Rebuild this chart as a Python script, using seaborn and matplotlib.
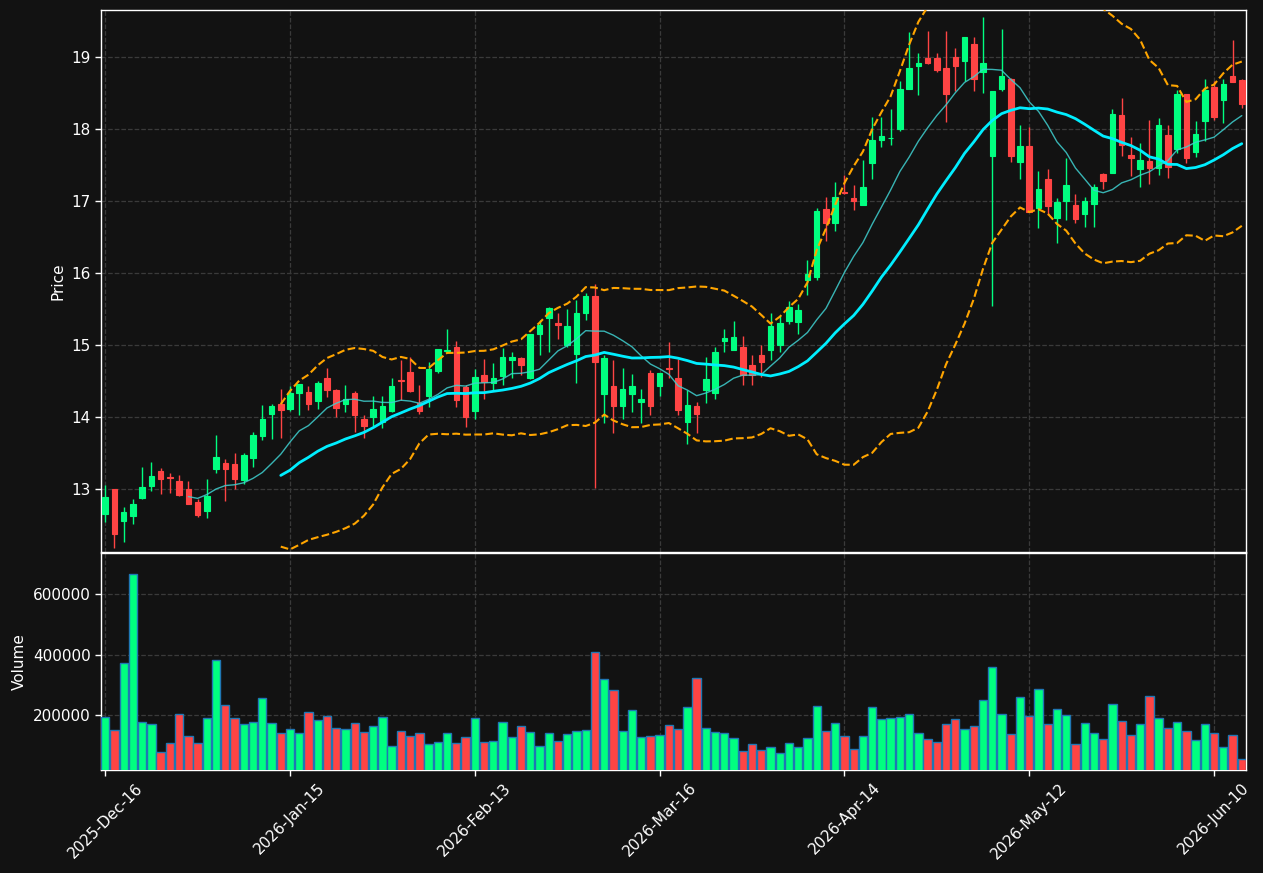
import numpy as np
import pandas as pd
import matplotlib
matplotlib.use("Agg")
import matplotlib.pyplot as plt
import seaborn as sns

# 日线数据 (交易日, 从 2025-12-16 开始)
start_date = "2025-12-16"
holidays = ["2025-12-25", "2026-01-01", "2026-01-19", "2026-02-16", "2026-04-03", "2026-05-25"]

opens = [12.66, 13.00, 12.56, 12.63, 12.88, 13.05, 13.25, 13.17, 13.11, 13.01,
         12.82, 12.70, 13.28, 13.36, 13.35, 13.13, 13.43, 13.74, 14.04, 14.19,
         14.12, 14.33, 14.35, 14.23, 14.55, 14.38, 14.18, 14.34, 13.97, 14.01,
         13.94, 14.09, 14.52, 14.63, 14.20, 14.29, 14.64, 14.92, 14.98, 14.42,
         14.09, 14.58, 14.47, 14.57, 14.79, 14.82, 14.54, 15.15, 15.37, 15.31,
         15.00, 14.88, 15.44, 15.68, 14.32, 14.44, 14.16, 14.32, 14.21, 14.62,
         14.43, 14.69, 14.55, 13.94, 14.15, 14.38, 14.33, 15.06, 14.93, 14.98,
         14.73, 14.87, 14.93, 15.00, 15.34, 15.32, 15.91, 15.94, 16.89, 16.70,
         17.12, 17.04, 16.94, 17.53, 17.85, 17.87, 18.00, 18.55, 18.87, 18.99,
         18.98, 18.85, 19.00, 18.94, 19.18, 18.79, 17.62, 18.55, 18.70, 17.54,
         17.77, 16.91, 17.31, 16.76, 17.00, 16.95, 16.82, 16.96, 17.37, 17.39,
         18.19, 17.64, 17.44, 17.56, 17.46, 17.92, 17.72, 18.48, 17.68, 18.11,
         18.58, 18.40, 18.74, 18.68]
highs = [13.06, 13.01, 12.75, 12.87, 13.31, 13.38, 13.29, 13.22, 13.20, 13.11,
         12.86, 13.14, 13.76, 13.42, 13.50, 13.50, 13.79, 14.17, 14.19, 14.39,
         14.43, 14.46, 14.43, 14.50, 14.69, 14.39, 14.45, 14.36, 14.03, 14.30,
         14.30, 14.54, 14.80, 14.84, 14.45, 14.76, 14.94, 15.22, 15.06, 14.45,
         14.67, 14.81, 14.75, 14.96, 14.90, 14.83, 15.15, 15.35, 15.53, 15.44,
         15.50, 15.62, 15.72, 15.85, 14.86, 14.80, 14.69, 14.60, 14.39, 14.66,
         14.62, 15.05, 14.81, 14.38, 14.21, 14.83, 14.98, 15.22, 15.33, 15.13,
         14.86, 15.00, 15.44, 15.40, 15.61, 15.57, 16.18, 16.90, 17.06, 17.26,
         17.36, 17.22, 17.57, 18.17, 18.17, 18.27, 18.67, 19.35, 19.06, 19.36,
         19.06, 19.36, 19.12, 19.28, 19.27, 19.56, 18.53, 19.39, 18.71, 18.06,
         18.03, 17.41, 17.45, 17.04, 17.60, 17.10, 17.06, 17.23, 17.39, 18.28,
         18.43, 17.89, 17.81, 18.13, 18.15, 18.06, 18.54, 18.49, 18.11, 18.70,
         18.67, 18.69, 19.24, 18.70]
lows = [12.54, 12.19, 12.27, 12.52, 12.87, 12.98, 12.94, 12.95, 12.91, 12.79,
        12.62, 12.60, 13.23, 12.84, 13.00, 13.08, 13.31, 13.69, 13.70, 13.71,
        14.08, 14.03, 14.10, 14.11, 14.28, 14.00, 14.07, 13.79, 13.71, 13.88,
        13.85, 14.07, 14.24, 14.35, 14.04, 14.14, 14.62, 14.89, 14.14, 13.87,
        13.97, 14.25, 14.38, 14.45, 14.54, 14.58, 14.53, 14.86, 14.90, 15.08,
        14.98, 14.47, 15.35, 13.02, 13.92, 13.78, 13.98, 14.07, 13.92, 14.03,
        14.29, 14.54, 14.03, 13.63, 13.78, 14.20, 14.25, 14.90, 14.93, 14.45,
        14.45, 14.56, 14.80, 14.90, 15.30, 15.15, 15.69, 15.91, 16.45, 16.58,
        17.10, 16.87, 16.94, 17.30, 17.75, 17.78, 17.97, 18.55, 18.47, 18.90,
        18.79, 18.09, 18.53, 18.67, 18.53, 18.50, 15.54, 18.53, 17.54, 17.30,
        16.85, 16.63, 16.80, 16.42, 16.73, 16.69, 16.64, 16.64, 17.16, 17.39,
        17.62, 17.35, 17.20, 17.24, 17.36, 17.32, 17.67, 17.53, 17.61, 17.83,
        18.12, 18.08, 18.65, 18.29]
closes = [12.89, 12.38, 12.68, 12.80, 13.03, 13.19, 13.14, 13.16, 12.92, 12.80,
          12.64, 12.91, 13.45, 13.28, 13.14, 13.47, 13.75, 13.97, 14.16, 14.10,
          14.33, 14.46, 14.18, 14.48, 14.38, 14.13, 14.25, 14.03, 13.88, 14.12,
          14.15, 14.44, 14.50, 14.36, 14.08, 14.67, 14.94, 14.93, 14.24, 14.01,
          14.56, 14.49, 14.55, 14.83, 14.83, 14.72, 15.15, 15.28, 15.52, 15.28,
          15.27, 15.45, 15.68, 14.77, 14.82, 14.16, 14.39, 14.44, 14.25, 14.15,
          14.62, 14.67, 14.10, 14.17, 14.04, 14.53, 14.91, 15.10, 15.12, 14.59,
          14.59, 14.77, 15.27, 15.31, 15.53, 15.49, 15.99, 16.86, 16.70, 17.06,
          17.11, 17.00, 17.19, 17.85, 17.90, 17.88, 18.55, 18.85, 18.91, 18.92,
          18.82, 18.48, 18.87, 19.28, 18.69, 18.91, 18.53, 18.74, 17.63, 17.77,
          16.85, 17.17, 16.93, 16.99, 17.22, 16.75, 17.00, 17.19, 17.28, 18.21,
          17.78, 17.60, 17.57, 17.46, 18.05, 17.47, 18.48, 17.60, 17.93, 18.54,
          18.16, 18.63, 18.65, 18.34]
volumes = [193000, 152000, 372000, 668000, 179000, 172000, 80000, 107000, 205000, 133000,
           109000, 190000, 384000, 235000, 192000, 172000, 179000, 258000, 175000, 142000,
           156000, 142000, 212000, 185000, 199000, 159000, 156000, 175000, 146000, 166000,
           195000, 100000, 149000, 133000, 142000, 106000, 113000, 142000, 109000, 129000,
           192000, 111000, 116000, 179000, 127000, 166000, 146000, 100000, 142000, 116000,
           139000, 149000, 152000, 408000, 321000, 283000, 149000, 219000, 129000, 133000,
           136000, 169000, 156000, 228000, 324000, 159000, 146000, 142000, 126000, 83000,
           106000, 86000, 96000, 76000, 109000, 96000, 126000, 232000, 149000, 175000,
           133000, 90000, 133000, 226000, 187000, 190000, 193000, 205000, 142000, 123000,
           113000, 172000, 189000, 156000, 166000, 250000, 361000, 205000, 139000, 262000,
           197000, 288000, 172000, 222000, 202000, 106000, 175000, 142000, 123000, 238000,
           182000, 136000, 172000, 265000, 192000, 159000, 179000, 149000, 119000, 172000,
           142000, 96000, 136000, 56000]

UP = "#00ff80"
DOWN = "#ff4444"
BG = "#121212"


def build_frame():
    dates = pd.bdate_range(start_date, periods=len(closes), freq="C", holidays=holidays)
    df = pd.DataFrame({"date": dates, "open": opens, "high": highs,
                       "low": lows, "close": closes, "volume": volumes})
    df["idx"] = np.arange(len(df))
    df["ma10"] = df["close"].rolling(10).mean()
    df["ma20"] = df["close"].rolling(20).mean()
    std20 = df["close"].rolling(20).std()
    df["bb_up"] = df["ma20"] + 2 * std20
    df["bb_dn"] = df["ma20"] - 2 * std20
    df["color"] = np.where(df["close"] >= df["open"], UP, DOWN)
    return df


def plot_chart(df):
    sns.set_theme(style="dark", rc={
        "figure.facecolor": BG, "axes.facecolor": BG,
        "axes.edgecolor": "white", "axes.labelcolor": "white",
        "xtick.color": "white", "ytick.color": "white", "text.color": "white",
        "grid.color": "#3a3a3a", "grid.linestyle": "--",
        "axes.grid": True, "xtick.bottom": True, "ytick.left": True,
    })
    plt.rcParams["font.family"] = ["DejaVu Sans"]

    fig = plt.figure(figsize=(12.63, 8.73), dpi=100)
    ax1 = fig.add_axes([0.080, 0.3677, 0.9065, 0.6208])
    ax2 = fig.add_axes([0.080, 0.118, 0.9065, 0.2486], sharex=ax1)

    # K线: 影线 + 实体
    ax1.vlines(df["idx"], df["low"], df["high"], colors=df["color"], linewidth=1, zorder=3)
    body = (df["close"] - df["open"]).values
    ax1.bar(df["idx"], body, bottom=df["open"], width=0.6, color=df["color"],
            edgecolor=df["color"], linewidth=0.8, zorder=4)

    # 均线和布林带
    sns.lineplot(data=df, x="idx", y="ma10", ax=ax1, color="#3fd0d0", linewidth=1, alpha=0.85, zorder=5)
    sns.lineplot(data=df, x="idx", y="ma20", ax=ax1, color="#00eeff", linewidth=2, zorder=5)
    sns.lineplot(data=df, x="idx", y="bb_up", ax=ax1, color="#ffa500", linewidth=1.5, linestyle="--", zorder=5)
    sns.lineplot(data=df, x="idx", y="bb_dn", ax=ax1, color="#ffa500", linewidth=1.5, linestyle="--", zorder=5)

    ax1.set_ylim(12.13, 19.65)
    ax1.set_xlim(-0.45, len(df) - 0.55)
    ax1.set_ylabel("Price", fontsize=11)
    ax1.set_xlabel("")
    ax1.tick_params(axis="x", labelbottom=False)

    # 成交量
    ax2.bar(df["idx"], df["volume"], width=0.9, color=df["color"],
            edgecolor="#1f77b4", linewidth=1, zorder=3)
    ax2.set_ylim(19000, 737000)
    ax2.set_yticks([200000, 400000, 600000])
    ax2.ticklabel_format(style="plain", axis="y")
    ax2.set_ylabel("Volume", fontsize=11)

    ticks = list(range(0, len(df), 20))
    ax2.set_xticks(ticks)
    ax2.set_xticklabels([df["date"][i].strftime("%Y-%b-%d") for i in ticks], rotation=45)

    for ax in (ax1, ax2):
        ax.grid(True, linestyle="--", color="#3a3a3a", linewidth=0.9)
        ax.tick_params(labelsize=11, length=4, width=1, colors="white")
        for s in ax.spines.values():
            s.set_color("white")
            s.set_linewidth(1)

    fig.savefig("out.png", dpi=100, facecolor=BG)
    plt.close(fig)


def main():
    df = build_frame()
    plot_chart(df)


if __name__ == "__main__":
    main()
